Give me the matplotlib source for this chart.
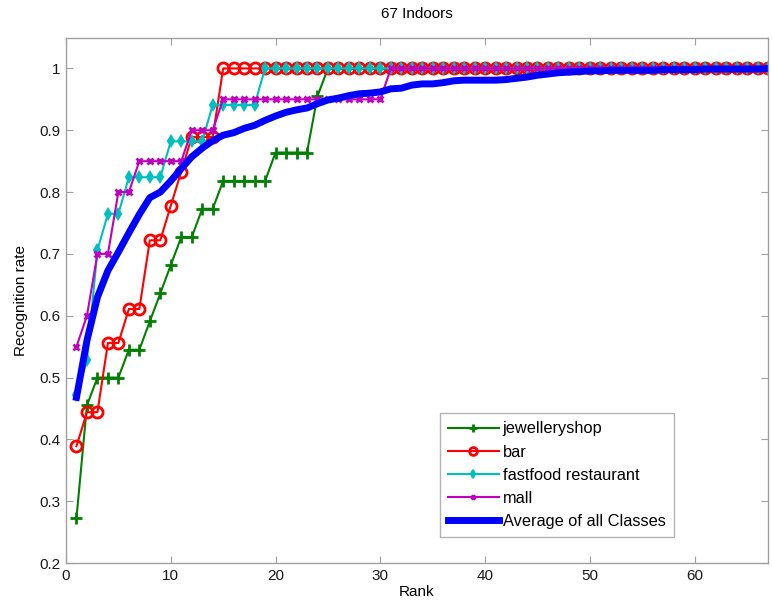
import matplotlib
matplotlib.use("Agg")
import matplotlib.pyplot as plt
import numpy as np

plt.rcParams['font.family'] = ['Liberation Sans', 'DejaVu Sans']

ranks = list(range(1, 68))

jewelleryshop = [0.273, 0.455, 0.5, 0.5, 0.5, 0.545, 0.545, 0.591, 0.636, 0.682,
                 0.727, 0.727, 0.773, 0.773, 0.818, 0.818, 0.818, 0.818, 0.818,
                 0.864, 0.864, 0.864, 0.864, 0.955] + [1.0] * 43
bar = [0.389, 0.444, 0.444, 0.556, 0.556, 0.611, 0.611, 0.722, 0.722, 0.778,
       0.833, 0.889, 0.889, 0.889] + [1.0] * 53
fastfood = [0.471, 0.529, 0.706, 0.765, 0.765, 0.824, 0.824, 0.824, 0.824,
            0.882, 0.882, 0.882, 0.882, 0.941, 0.941, 0.941, 0.941, 0.941] + [1.0] * 49
mall = [0.55, 0.6, 0.7, 0.7, 0.8, 0.8, 0.85, 0.85, 0.85, 0.85, 0.85,
        0.9, 0.9, 0.9] + [0.95] * 16 + [1.0] * 37
average = [0.468, 0.56, 0.63, 0.673, 0.703, 0.734, 0.764, 0.791, 0.80, 0.818,
           0.838, 0.857, 0.871, 0.883, 0.892, 0.896, 0.903, 0.908, 0.916, 0.923,
           0.929, 0.933, 0.936, 0.943, 0.949, 0.952, 0.956, 0.959, 0.960, 0.962,
           0.967, 0.968, 0.973, 0.975, 0.975, 0.977, 0.980, 0.981, 0.981, 0.981,
           0.981, 0.982, 0.984, 0.986, 0.989, 0.991, 0.993, 0.994, 0.995, 0.996,
           0.996, 0.997, 0.997, 0.997, 0.997, 0.997, 0.998, 0.998, 0.998, 0.998,
           0.999, 0.999, 0.999, 0.999, 0.999, 0.999, 1.0]

labels = ['jewelleryshop', 'bar', 'fastfood restaurant', 'mall', 'Average of all Classes']

fig = plt.figure(figsize=(7.72, 6.10), dpi=100)
ax = fig.add_axes([0.0855, 0.077, 0.9093, 0.8615])

ax.plot(ranks, jewelleryshop, color='#008000', lw=1.5, marker='+', ms=8, mew=2,
        label=labels[0])
ax.plot(ranks, bar, color='#FF0000', lw=1.5, marker='o', ms=8, mew=2,
        mfc='none', label=labels[1])
ax.plot(ranks, fastfood, color='#00BFBF', lw=1.5, marker='d', ms=5.5, mew=1.5,
        label=labels[2])
ax.plot(ranks, mall, color='#BF00BF', lw=1.5, marker='x', ms=4.5, mew=2,
        label=labels[3])
ax.plot(ranks, average, color='#0000FF', lw=5, label=labels[4])

ax.set_xlim(0, 67)
ax.set_ylim(0.2, 1.05)
ax.set_xticks(np.arange(0, 61, 10))
ax.set_yticks(np.arange(0.2, 1.01, 0.1))
ax.set_yticklabels(['0.2', '0.3', '0.4', '0.5', '0.6', '0.7', '0.8', '0.9', '1'])

for sp in ax.spines.values():
    sp.set_color('#A0A0A0')
    sp.set_linewidth(1.0)
ax.tick_params(direction='in', length=5, width=0.8, color='#A0A0A0',
               top=True, right=True, labelsize=11, labelcolor='#1a1a1a', pad=4)

ax.set_title('67 Indoors', fontsize=11, pad=14)
ax.set_xlabel('Rank', fontsize=11, labelpad=2)
ax.set_ylabel('Recognition rate', fontsize=11, labelpad=8)

leg = ax.legend(loc='lower right', bbox_to_anchor=(0.866, 0.049), fontsize=11.8,
                handlelength=3.1, frameon=True, fancybox=False, borderpad=0.5,
                labelspacing=0.5, handletextpad=0.25, markerscale=0.7,
                borderaxespad=0)
leg.get_frame().set_edgecolor('#A0A0A0')
leg.get_frame().set_linewidth(1.0)

fig.savefig('out.png', dpi=100)
